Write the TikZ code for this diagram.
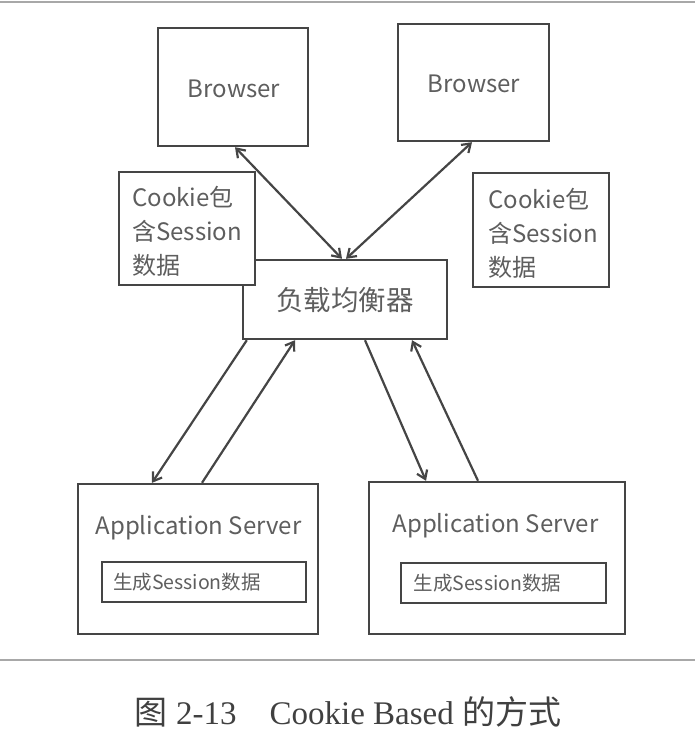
\documentclass[tikz,border=0pt]{standalone}
\usepackage{fontspec}
\setmainfont{Liberation Serif}
\newfontfamily\cjk{Noto Sans CJK SC}
\usepackage{xcolor}
\usetikzlibrary{positioning, arrows.meta, calc}

\definecolor{boxline}{HTML}{454545}
\definecolor{boxtext}{HTML}{5E5E5E}
\definecolor{rulegray}{HTML}{A8A8A8}

\begin{document}
\begin{tikzpicture}[
  x=1pt, y=-1pt,
  >={Straight Barb[length=8pt,width=11pt]},
  every node/.style={font=\cjk, text=boxtext},
  box/.style={draw=boxline, line width=2.4pt, fill=white, inner sep=0pt},
  link/.style={draw=boxline, line width=2.2pt}
]
\useasboundingbox (0,0) rectangle (695,733);

% ---- RULES ----
\draw[rulegray, line width=1.5pt] (0,2) -- (695,2);
\draw[rulegray, line width=1.5pt] (0,660) -- (695,660);

% ---- BROWSERS ----
\node[box, minimum width=150pt, minimum height=118pt] (browserA) at (233,87) {};
\node[font=\cjk\fontsize{24}{28}\selectfont] at (234,89) {Browser};
\node[box, minimum width=151pt, minimum height=117pt] (browserB) at (473.5,82.5) {};
\node[font=\cjk\fontsize{24}{28}\selectfont] at (474,84) {Browser};

% ---- LOAD BALANCER ----
\node[box, minimum width=204pt, minimum height=79pt] (lb) at (345,299.5) {};
\node[font=\cjk\fontsize{27.5}{32}\selectfont] at (345,300) {负载均衡器};

% ---- COOKIE NOTES ----
\node[box, minimum width=136pt, minimum height=113pt] (cookieA) at (187,228.5) {};
\node[font=\cjk\fontsize{24}{34}\selectfont, align=left, anchor=west, inner sep=0pt]
  at (132,231) {Cookie包\\含Session\\数据};
\node[box, minimum width=136pt, minimum height=114pt] (cookieB) at (541,230) {};
\node[font=\cjk\fontsize{24}{34}\selectfont, align=left, anchor=west, inner sep=0pt]
  at (488,233) {Cookie包\\含Session\\数据};

% ---- APPLICATION SERVERS ----
\node[box, minimum width=240pt, minimum height=150pt] (appA) at (198,559) {};
\node[font=\cjk\fontsize{24}{28}\selectfont] at (198.5,528) {Application Server};
\node[box, line width=2pt, minimum width=204pt, minimum height=40pt,
      font=\cjk\fontsize{19.5}{23}\selectfont, text width=182pt, align=left]
  (sessA) at (204,582) {生成Session数据};

\node[box, minimum width=256pt, minimum height=152pt] (appB) at (497,558) {};
\node[font=\cjk\fontsize{24}{28}\selectfont] at (495.5,526) {Application Server};
\node[box, line width=2pt, minimum width=205pt, minimum height=40pt,
      font=\cjk\fontsize{19.5}{23}\selectfont, text width=180pt, align=left]
  (sessB) at (503.5,583) {生成Session数据};

% ---- CONNECTORS ----
\draw[link, <->] ([xshift=2pt]browserA.south) -- ([xshift=-3pt]lb.north);
\draw[link, <->] ([xshift=-1.5pt]browserB.south) -- ([xshift=1pt]lb.north);

\draw[link, ->] ([xshift=5pt]lb.south west) -- ([xshift=-46pt]appA.north);
\draw[link, ->] ([xshift=4pt]appA.north) -- ([xshift=-50pt]lb.south);
\draw[link, ->] ([xshift=20pt]lb.south) -- ([xshift=-71pt]appB.north);
\draw[link, ->] ([xshift=-19pt]appB.north) -- ([xshift=67pt]lb.south);

% ---- CAPTION ----
\node[font=\fontsize{33}{38}\selectfont, text=black!75] (caption) at (348,712)
  {{\cjk 图} 2-13\hspace{1em}Cookie Based {\cjk 的方式}};

\end{tikzpicture}
\end{document}
